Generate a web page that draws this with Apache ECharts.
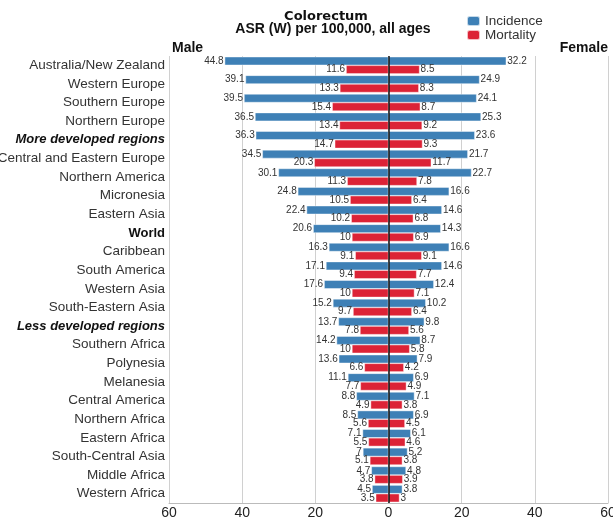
<!DOCTYPE html>
<html><head><meta charset="utf-8">
<script src="https://cdn.jsdelivr.net/npm/echarts@6/dist/echarts.min.js"></script>
<style>html,body{margin:0;padding:0;background:#fff}#c{width:613px;height:518px}</style>
</head><body><div id="c"></div>
<script>
var categories = ["Australia/New Zealand","Western Europe","Southern Europe","Northern Europe","More developed regions","Central and Eastern Europe","Northern America","Micronesia","Eastern Asia","World","Caribbean","South America","Western Asia","South-Eastern Asia","Less developed regions","Southern Africa","Polynesia","Melanesia","Central America","Northern Africa","Eastern Africa","South-Central Asia","Middle Africa","Western Africa"];
var maleIncidence = [44.8,39.1,39.5,36.5,36.3,34.5,30.1,24.8,22.4,20.6,16.3,17.1,17.6,15.2,13.7,14.2,13.6,11.1,8.8,8.5,7.1,7,4.7,4.5];
var maleMortality = [11.6,13.3,15.4,13.4,14.7,20.3,11.3,10.5,10.2,10,9.1,9.4,10,9.7,7.8,10,6.6,7.7,4.9,5.6,5.5,5.1,3.8,3.5];
var femaleIncidence = [32.2,24.9,24.1,25.3,23.6,21.7,22.7,16.6,14.6,14.3,16.6,14.6,12.4,10.2,9.8,8.7,7.9,6.9,7.1,6.9,6.1,5.2,4.8,3.8];
var femaleMortality = [8.5,8.3,8.7,9.2,9.3,11.7,7.8,6.4,6.8,6.9,9.1,7.7,7.1,6.4,5.6,5.8,4.2,4.9,3.8,4.5,4.6,3.8,3.9,3];
var xTicks = [-60,-40,-20,0,20,40,60];
var boldItalic = ["More developed regions","Less developed regions"];
var boldOnly = ["World"];

var FONT = 'Arial, "Liberation Sans", sans-serif';
var TFONT = '"DejaVu Sans", Verdana, sans-serif';
var BLUE = '#3e80b6', RED = '#dc2336';
var chart = echarts.init(document.getElementById('c'));
function neg(a){return a.map(function(v){return -v;});}
function lbl(pos){return {show:true,position:pos,distance:1,fontSize:10,fontFamily:FONT,color:'#333',
  formatter:function(p){return String(Math.abs(p.value));}};}
var common = {type:'bar',barWidth:8.6,barGap:'0%',itemStyle:{borderColor:'rgba(255,255,255,0.7)',borderWidth:0.6}};
chart.setOption({
  animation:false,
  textStyle:{fontFamily:FONT},
  title:[
    {text:'Colorectum',left:326,textAlign:'center',top:10,padding:0,
     textStyle:{fontSize:13,fontWeight:'bold',color:'#111',fontFamily:TFONT}},
    {text:'ASR (W) per 100,000, all ages',left:333,textAlign:'center',top:22,padding:0,
     textStyle:{fontSize:14,fontWeight:'bold',color:'#111',fontFamily:FONT}},
    {text:'Male',left:172,top:41,padding:0,textStyle:{fontSize:14,fontWeight:'bold',color:'#111',fontFamily:FONT}},
    {text:'Female',right:5,top:41,padding:0,textStyle:{fontSize:14,fontWeight:'bold',color:'#111',fontFamily:FONT}}
  ],
  legend:{orient:'vertical',left:466,top:14,itemWidth:13,itemHeight:10,itemGap:0,padding:0,
    textStyle:{fontSize:13.5,color:'#333',fontFamily:FONT,lineHeight:12},data:['Incidence','Mortality']},
  grid:{left:169,right:5,top:56,bottom:15,containLabel:false,outerBoundsMode:'none'},
  xAxis:{type:'value',min:-60,max:60,interval:20,
    axisLine:{show:true,lineStyle:{color:'#bbb'}},axisTick:{show:false},
    splitLine:{show:true,lineStyle:{color:'#d0d0d0'}},
    axisLabel:{fontSize:14,color:'#222',margin:3,fontFamily:FONT,
      formatter:function(v){return xTicks.indexOf(v)>=0?String(Math.abs(v)):'';}}},
  yAxis:{type:'category',inverse:true,data:categories,
    axisLine:{show:false},axisTick:{show:false},
    axisLabel:{fontSize:13.5,color:'#333',margin:4,fontFamily:FONT,
      formatter:function(v){if(boldItalic.indexOf(v)>=0)return '{bi|'+v+'}';if(boldOnly.indexOf(v)>=0)return '{b|'+v+'}';return v;},
      rich:{bi:{fontWeight:'bold',fontStyle:'italic',fontSize:13,color:'#111',fontFamily:FONT},
            b:{fontWeight:'bold',fontSize:13,color:'#111',fontFamily:FONT}}}},
  series:[
    Object.assign({},common,{name:'Incidence',stack:'inc',data:neg(maleIncidence),itemStyle:Object.assign({color:BLUE},common.itemStyle),label:lbl('left')}),
    Object.assign({},common,{name:'Mortality',stack:'mort',data:neg(maleMortality),itemStyle:Object.assign({color:RED},common.itemStyle),label:lbl('left')}),
    Object.assign({},common,{name:'Incidence',stack:'inc',data:femaleIncidence,itemStyle:Object.assign({color:BLUE},common.itemStyle),label:lbl('right')}),
    Object.assign({},common,{name:'Mortality',stack:'mort',data:femaleMortality,itemStyle:Object.assign({color:RED},common.itemStyle),label:lbl('right'),
      markLine:{silent:true,symbol:'none',label:{show:false},lineStyle:{color:'#111',width:1.5,type:'solid'},data:[{xAxis:0}]}})
  ]
});
</script></body></html>
